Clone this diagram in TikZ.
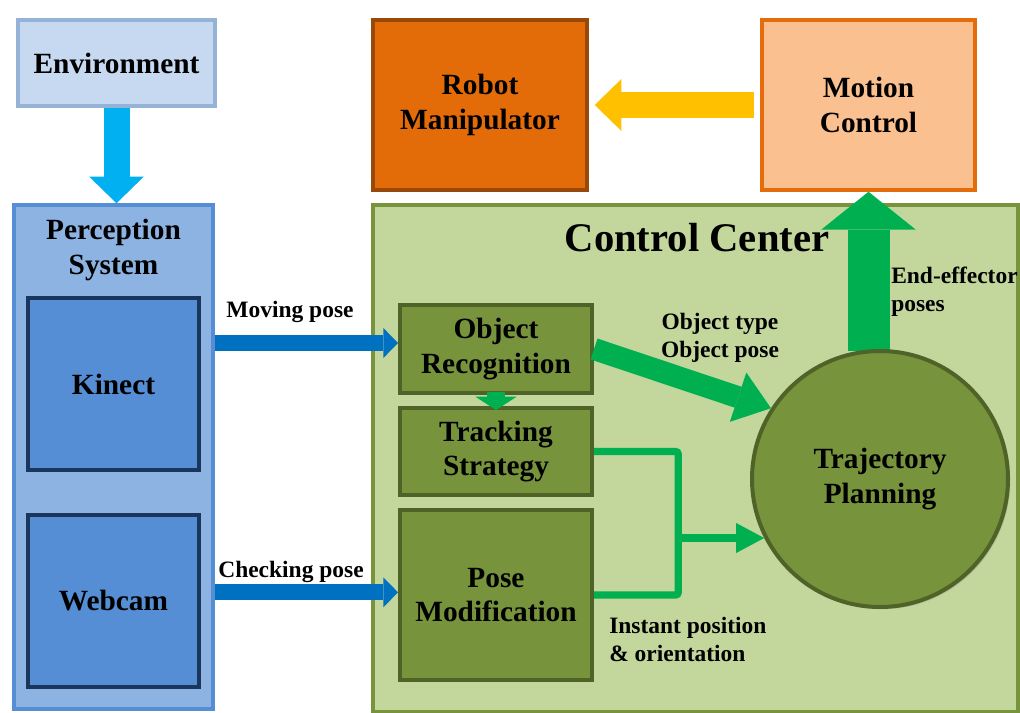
\documentclass[tikz,border=0pt]{standalone}
\usepackage{fontspec}
\setmainfont{Liberation Serif}
\usetikzlibrary{arrows.meta,shadows,calc}

\definecolor{envfill}{HTML}{C6D9F1}
\definecolor{envline}{HTML}{95B3D7}
\definecolor{percfill}{HTML}{8DB3E2}
\definecolor{percline}{HTML}{558ED5}
\definecolor{camfill}{HTML}{558ED5}
\definecolor{camline}{HTML}{1B365D}
\definecolor{robotfill}{HTML}{E36C09}
\definecolor{robotline}{HTML}{984807}
\definecolor{motionfill}{HTML}{FAC090}
\definecolor{motionline}{HTML}{E46C0A}
\definecolor{ctrlfill}{HTML}{C3D69B}
\definecolor{ctrlline}{HTML}{77933C}
\definecolor{innerfill}{HTML}{77933C}
\definecolor{innerline}{HTML}{4F6228}
\definecolor{greenA}{HTML}{00B050}
\definecolor{blueA}{HTML}{0070C0}
\definecolor{cyanA}{HTML}{00B0F0}
\definecolor{yellowA}{HTML}{FFC000}

\tikzset{
  box/.style={draw, rectangle, line width=2.6pt, align=center, inner sep=0pt,
    font=\bfseries\fontsize{22}{26}\selectfont,
    drop shadow={shadow xshift=1.6pt, shadow yshift=-1.6pt, opacity=0.3}},
  lbl/.style={inner sep=0pt, font=\bfseries\fontsize{17.6}{21}\selectfont},
  heading/.style={inner sep=0pt, font=\bfseries\fontsize{30.5}{34}\selectfont},
  fat/.style n args={4}{draw=#1, line width=#2,
    -{Triangle[width=#3, length=#4, line width=0pt]}},
}

\begin{document}
\begin{tikzpicture}[x=0.75pt, y=-0.75pt]
\useasboundingbox (0,0) rectangle (1020,713);

% containers
\node[box, fill=percfill, draw=percline, minimum width=149.25pt, minimum height=378pt] (perc) at (113.5,457) {};
\node[box, fill=ctrlfill, draw=ctrlline, line width=3pt, minimum width=483.75pt, minimum height=380pt] (ctrl) at (695.5,458.5) {};

% top row
\node[box, fill=envfill, draw=envline, minimum width=147.75pt, minimum height=64.5pt] (env) at (116.5,63) {Environment};
\node[box, fill=robotfill, draw=robotline, minimum width=160.5pt, minimum height=127.5pt] (robot) at (480,105) {Robot\\Manipulator};
\node[box, fill=motionfill, draw=motionline, minimum width=159.75pt, minimum height=127.5pt] (motion) at (868.5,105) {Motion\\Control};

% perception system
\node[inner sep=0pt, align=center, font=\bfseries\fontsize{22}{26}\selectfont] (ptitle) at (113.5,250) {Perception\\System};
\node[box, fill=camfill, draw=camline, line width=3pt, minimum width=128.25pt, minimum height=129pt] (kinect) at (113.5,384) {Kinect};
\node[box, fill=camfill, draw=camline, line width=3pt, minimum width=128.25pt, minimum height=129pt] (webcam) at (113.5,601) {Webcam};

% control center modules
\node[box, fill=innerfill, draw=innerline, line width=3pt, minimum width=144pt, minimum height=66pt] (objrec) at (496,349) {Object\\Recognition};
\node[box, fill=innerfill, draw=innerline, line width=3pt, minimum width=144pt, minimum height=65.25pt] (tracking) at (496,451.5) {Tracking\\Strategy};
\node[box, fill=innerfill, draw=innerline, line width=3pt, minimum width=144pt, minimum height=127.5pt] (pose) at (496,595) {Pose\\Modification};

% end-effector poses up to motion control (drawn beneath the planner)
\draw[fat={greenA}{31.5pt}{71pt}{28.5pt}] (880,351) coordinate (upstart) (motion.south |- upstart) -- (motion.south);

\node[box, circle, fill=innerfill, draw=innerline, line width=3pt, minimum size=192pt] (traj) at (880,479) {Trajectory\\Planning};

% flows
\draw[fat={cyanA}{19.5pt}{41pt}{20pt}] (env.south) -- (env.south |- perc.north);
\draw[fat={yellowA}{19.5pt}{39pt}{20pt}, shorten <=5pt, shorten >=4.5pt] (motion.west) -- (robot.east);

\coordinate (mvend) at ([yshift=4.5pt]objrec.west);
\coordinate (ckend) at ([yshift=2pt]pose.west);
\draw[fat={blueA}{12pt}{22.5pt}{11pt}] (mvend -| perc.east) -- (mvend);
\draw[fat={blueA}{12pt}{22.5pt}{11pt}] (ckend -| perc.east) -- (ckend);

\draw[fat={greenA}{14pt}{31pt}{10pt}, shorten <=-2pt, shorten >=-3pt] (objrec.south) -- (tracking.north);
\draw[fat={greenA}{16.5pt}{39pt}{26pt}] (objrec.east) -- (traj.147);

\path (traj.207) ++(-86,0) coordinate (junc);
\draw[greenA, line width=5.5pt, rounded corners=2pt] (tracking.east) -| (junc) |- (pose.east);
\draw[fat={greenA}{5.5pt}{22.5pt}{21pt}] (junc) -- (traj.207);

% labels
\node[heading] (ttl) at (697,238) {Control Center};
\node[lbl] (lmove) at (290,312) {Moving pose};
\node[lbl] (lcheck) at (291,572) {Checking pose};
\node[lbl, align=center] (lobj) at (720,338) {Object type\\Object pose};
\node[lbl, align=left, anchor=west] (lend) at (891,292) {End-effector\\poses};
\node[lbl, align=left, anchor=west] (linst) at (609,639) {Instant position\\\& orientation};
\end{tikzpicture}
\end{document}
